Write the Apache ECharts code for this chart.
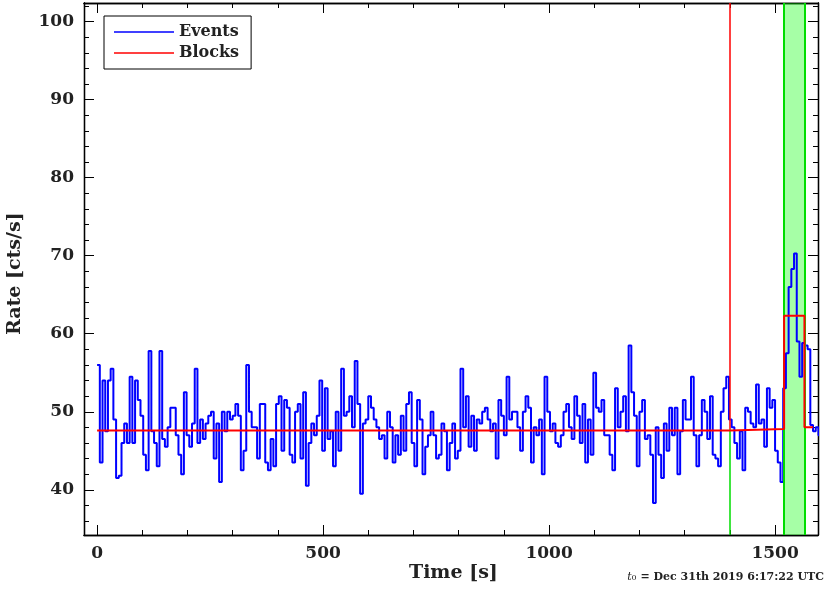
<!DOCTYPE html>
<html><head><meta charset="utf-8">
<script src="https://cdn.jsdelivr.net/npm/echarts@6/dist/echarts.min.js"></script>
<style>html,body{margin:0;padding:0;background:#fff}#c{width:830px;height:592px}</style>
</head><body><div id="c"></div>
<script>
const binWidth = 6;
const rates = [
56,43.5,54,47.5,54,55.5,49,41.5,41.8,46,48.5,46,54.5,46,54,51.5,49.5,44.5,42.5,57.8,47.5,46,43,57.8,46.5,45.5,48,50.5,50.5,47,44.5,42,52.5,47,45.5,48.5,55.5,46,49,46.5,48.5,49.5,50,44,48.5,41,50,47.5,50,49,49.5,51,49.5,42.5,45,56,50,48,48,44,51,51,43.5,42.5,46.5,43,51,
52,45,51.5,50.5,44.5,43.5,50,51,44,52.5,40.5,46,48.5,47,49.5,54,45,53,46.5,47.5,43,50,45,55.5,49.5,50,52,48,56.5,51,39.5,48.5,49,52,50.5,49,48,46.5,47,44,50,48,43.5,47,44.5,49.5,45,51,52.5,46,43,51.5,49,42,45.5,47,50,47,44,44.5,48.5,47.5,42.5,46,48.5,44,45,
55.5,48,52,45.5,49.5,45,49,48.5,50,50.5,49,47.5,48.5,44,51.5,49.5,47,54.5,49,50,50,48,45,50,52,50.5,43.5,48,47,49,42,54.5,50,47.5,48.5,46,45.5,47,50,51,48,46.5,52,49.5,46,51,43.5,49,44.5,55,50.5,50,51.5,47,47,44.5,42.5,53,48,50,52,47.5,58.5,52.5,49.5,43,50,
51.5,46.5,47,44.5,38.3,48,44.5,41.5,48.5,45,50.5,47,50.5,42,47.5,51.5,49,49,54.5,47,43,47,51.5,50,46.5,52,44.5,44,43,50,53,54.5,
49,48,46,44,47.5,42.5,50.5,50,48.5,48,53.5,48.5,49,45.5,53,50.5,51.5,45,43.5,41,
53,57.5,66,68.3,70.3,59,54.5,58.8,58.5,58,48.3,47.5,48,47
];
const blockEdges = [0, 1400, 1520, 1565, 1584];
const blockRates = [47.6, 47.8, 62.3, 48.0];
const yTicks = [40,50,60,70,80,90,100];
const xTicks = [0,500,1000,1500];

const evData = rates.map((v,i)=>[i*binWidth, v]);
evData.push([rates.length*binWidth, rates[rates.length-1]]);
const blData = blockRates.map((v,i)=>[blockEdges[i], v]);
blData.push([blockEdges[blockEdges.length-1], blockRates[blockRates.length-1]]);

const yMinor=[], xMinor=[];
for(let v=36; v<=102; v+=2) yMinor.push(v);
for(let v=0; v<=1600; v+=100) xMinor.push(v);

const font = 'DejaVu Serif';
const lab = {fontFamily:font, fontWeight:'bold', fontSize:17, color:'#222'};
const XMIN=-29, XMAX=1595, YMIN=34.2, YMAX=102.4;
function ax(kind, pos, show, custom, len){
  return {type:'value', min:kind==='x'?XMIN:YMIN, max:kind==='x'?XMAX:YMAX, position:pos, splitLine:{show:false},
    axisLine:{show:true, onZero:false, lineStyle:{color:'#000', width:1.3}},
    axisTick:{show:true, inside:true, length:len, customValues:custom, lineStyle:{color:'#000'}},
    axisLabel:{show:show, customValues:custom, ...lab, margin:10, formatter:v=>String(v)}};
}
const chart = echarts.init(document.getElementById('c'));
chart.setOption({
  animation:false,
  grid:{left:84, right:12, top:3, bottom:57},
  xAxis:[ax('x','bottom',true,xTicks,10), ax('x','top',false,xTicks,10), ax('x','bottom',false,xMinor,5), ax('x','top',false,xMinor,5)],
  yAxis:[ax('y','left',true,yTicks,10), ax('y','right',false,yTicks,10), ax('y','left',false,yMinor,5), ax('y','right',false,yMinor,5)],
  legend:{left:104, top:16, orient:'vertical', itemGap:5, itemWidth:60, itemHeight:1.5, padding:[8,12,8,10],
    borderColor:'#000', borderWidth:1, borderRadius:0,
    textStyle:{fontFamily:font, fontWeight:'bold', fontSize:16, color:'#222'},
    data:[{name:'Events', icon:'rect'},{name:'Blocks', icon:'rect'}]},
  series:[
    {name:'marks', type:'line', data:[], z:1,
     markArea:{silent:true, itemStyle:{color:'rgba(0,255,0,0.35)'}, data:[[{xAxis:1520},{xAxis:1565}]]},
     markLine:{silent:true, symbol:'none', label:{show:false},
       data:[{xAxis:1520, lineStyle:{color:'#00dd00', type:'solid', width:2}},
             {xAxis:1565, lineStyle:{color:'#00dd00', type:'solid', width:2}},
             [{coord:[1400,YMIN]},{coord:[1400,47.8], lineStyle:{color:'#00dd00', type:'solid', width:1.5}}]]}},
    {name:'Events', type:'line', step:'end', data:evData, showSymbol:false, color:'#0000ff',
     lineStyle:{width:2, color:'#0000ff'}, z:3},
    {name:'Blocks', type:'line', step:'end', data:blData, showSymbol:false, color:'#ff0000',
     lineStyle:{width:2, color:'#ff0000'}, z:5,
     markLine:{silent:true, symbol:'none', label:{show:false},
       data:[[{coord:[1400,47.8]},{coord:[1400,YMAX], lineStyle:{color:'#ff0000', type:'solid', width:1.5}}]]}}
  ],
  graphic:[
    {type:'text', left:409, top:564, style:{text:'Time [s]', font:'bold 19px "DejaVu Serif"', fill:'#222'}},
    {type:'text', x:6, y:335, rotation:Math.PI/2, style:{text:'Rate [cts/s]', font:'bold 19px "DejaVu Serif"', fill:'#222'}},
    {type:'text', right:6, top:572, style:{rich:{i:{fontFamily:font, fontStyle:'italic', fontSize:11, fill:'#222'}, s:{fontFamily:font, fontSize:8, fill:'#222'}, n:{fontFamily:font, fontWeight:'bold', fontSize:11, fill:'#222'}}, text:'{i|t}{s|0}{n| = Dec 31th 2019 6:17:22 UTC}'}}
  ]
});
</script></body></html>
